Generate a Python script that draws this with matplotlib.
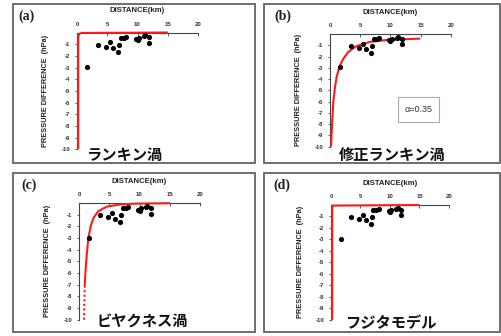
import matplotlib
matplotlib.use("Agg")
import matplotlib.pyplot as plt
from matplotlib.patches import Rectangle

W, H = 502, 336

# observed data (distance km, pressure difference hPa)
obs_x = [1.65, 3.47, 4.79, 5.4, 5.9, 6.7, 7.0, 7.2, 7.7, 8.1, 9.8, 10.0, 10.2, 11.0, 11.3, 11.9, 11.9]
obs_y = [-2.97, -1.06, -1.24, -0.85, -1.35, -1.65, -1.06, -0.47, -0.47, -0.35, -0.56, -0.65, -0.47, -0.32, -0.23, -0.41, -0.91]

# model curves
rankine_x = [0.2, 0.2, 0.25, 0.4, 0.8, 15]
rankine_y = [-10, -0.6, -0.25, -0.1, -0.04, 0.0]
mod_rankine_x = [0.17, 0.33, 0.55, 0.83, 1.1, 1.55, 2.2, 3.0, 4.4, 6.6, 9.4, 12.1, 14.9]
mod_rankine_y = [-10, -8.1, -6.0, -4.7, -3.8, -2.9, -2.2, -1.6, -1.06, -0.7, -0.53, -0.47, -0.41]
bjerknes_x = [0.94, 1.1, 1.27, 1.55, 1.93, 2.37, 3.2, 4.6, 6.8, 9.5, 15]
bjerknes_y = [-7.2, -5.6, -4.5, -3.0, -2.0, -1.3, -0.69, -0.31, -0.12, -0.05, -0.02]
bjerknes_dot_x = [0.83, 0.94]
bjerknes_dot_y = [-10, -7.2]
fujita_x = [0.2, 0.2, 0.3, 15]
fujita_y = [-10, -0.3, -0.05, 0.0]

x_ticks = [0, 5, 10, 15, 20]
y_ticks = [-1, -2, -3, -4, -5, -6, -7, -8, -9, -10]
panel_letters = ["(a)", "(b)", "(c)", "(d)"]
panel_names = ["ランキン渦", "修正ランキン渦", "ビヤクネス渦", "フジタモデル"]
alpha_text = "α=0.35"

fig = plt.figure(figsize=(W / 100, H / 100), dpi=100)


def fx(x):
    return x / W


def fy(y):
    return 1 - y / H


# panel geometry in pixels
boxes = [(13, 4, 255, 163), (264, 4, 500, 163), (13, 173, 255, 332), (264, 173, 500, 332)]
axes_px = [(77, 198, 32.5, 149.3), (330, 451, 34, 146.7), (79, 200, 203, 319.7), (331, 449, 205, 319.7)]
letter_pos = [(27, 16), (282.5, 16), (29, 185.5), (282, 185.5)]
name_pos = [(124, 155), (392, 155), (142, 322), (391, 323)]

curves = [
    [(rankine_x, rankine_y, "-")],
    [(mod_rankine_x, mod_rankine_y, "-")],
    [(bjerknes_x, bjerknes_y, "-"), (bjerknes_dot_x, bjerknes_dot_y, (0, (1, 1.2)))],
    [(fujita_x, fujita_y, "-")],
]

for i in range(4):
    bx0, by0, bx1, by1 = boxes[i]
    fig.patches.append(Rectangle((fx(bx0), fy(by1)), fx(bx1 - bx0), (by1 - by0) / H,
                                 transform=fig.transFigure, fill=False,
                                 edgecolor="#6e6e6e", linewidth=1.4))
    x0, x20, y0, y10 = axes_px[i]
    ax = fig.add_axes([fx(x0), fy(y10), fx(x20 - x0), (y10 - y0) / H])
    ax.set_xlim(0, 20)
    ax.set_ylim(-10, 0)
    ax.patch.set_alpha(0)
    for s in ["bottom", "right"]:
        ax.spines[s].set_visible(False)
    for s in ["top", "left"]:
        ax.spines[s].set_color("#444444")
        ax.spines[s].set_linewidth(0.8)
    ax.xaxis.tick_top()
    ax.set_xticks(x_ticks)
    ax.set_xticklabels([str(v) for v in x_ticks])
    ax.set_yticks(y_ticks)
    ax.set_yticklabels([str(v) for v in y_ticks])
    ax.tick_params(axis="x", direction="in", length=2, width=0.6, color="#444444",
                   labelsize=4.3, labelcolor="#333333", pad=4)
    ax.tick_params(axis="y", direction="out", length=1.5, width=0.6, color="#444444",
                   labelsize=4.3, labelcolor="#333333", pad=3.5)
    for tl in ax.get_xticklabels() + ax.get_yticklabels():
        tl.set_fontfamily("Liberation Sans")
        tl.set_fontweight("bold")

    for cx, cy, ls in curves[i]:
        ax.plot(cx, cy, color="#ff1a1a", lw=1.5, ls=ls, clip_on=False, zorder=4,
                solid_capstyle="butt")
    ax.scatter(obs_x, obs_y, s=14, color="black", zorder=5, clip_on=False, linewidths=0)

    cx_mid = (x0 + x20) / 2
    fig.text(fx(cx_mid), fy(y0 - 21.5), "DISTANCE(km)", ha="center", va="center",
             fontsize=5.6, fontweight="bold", family="Liberation Sans", color="#222222")
    fig.text(fx(x0 - 31), fy((y0 + y10) / 2), "PRESSURE DIFFERENCE  (hPa)", rotation=90,
             ha="center", va="center", fontsize=5.3, fontweight="bold",
             family="Liberation Sans", color="#222222")
    lx, ly = letter_pos[i]
    fig.text(fx(lx), fy(ly), panel_letters[i], ha="center", va="center", fontsize=10,
             fontweight="bold", family="Liberation Serif", color="#222222")
    nx, ny = name_pos[i]
    fig.text(fx(nx), fy(ny), panel_names[i], ha="center", va="center", fontsize=11,
             fontweight="bold", family=["Noto Sans CJK JP", "DejaVu Sans"], color="#111111")

# alpha annotation box in panel (b)
fig.patches.append(Rectangle((fx(398), fy(122)), fx(41), 25 / H, transform=fig.transFigure,
                             fill=False, edgecolor="#aaaaaa", linewidth=0.8))
fig.text(fx(418.5), fy(109.5), alpha_text, ha="center", va="center", fontsize=6.5,
         family="Liberation Sans", color="#333333")

fig.savefig("out.png", dpi=100)
